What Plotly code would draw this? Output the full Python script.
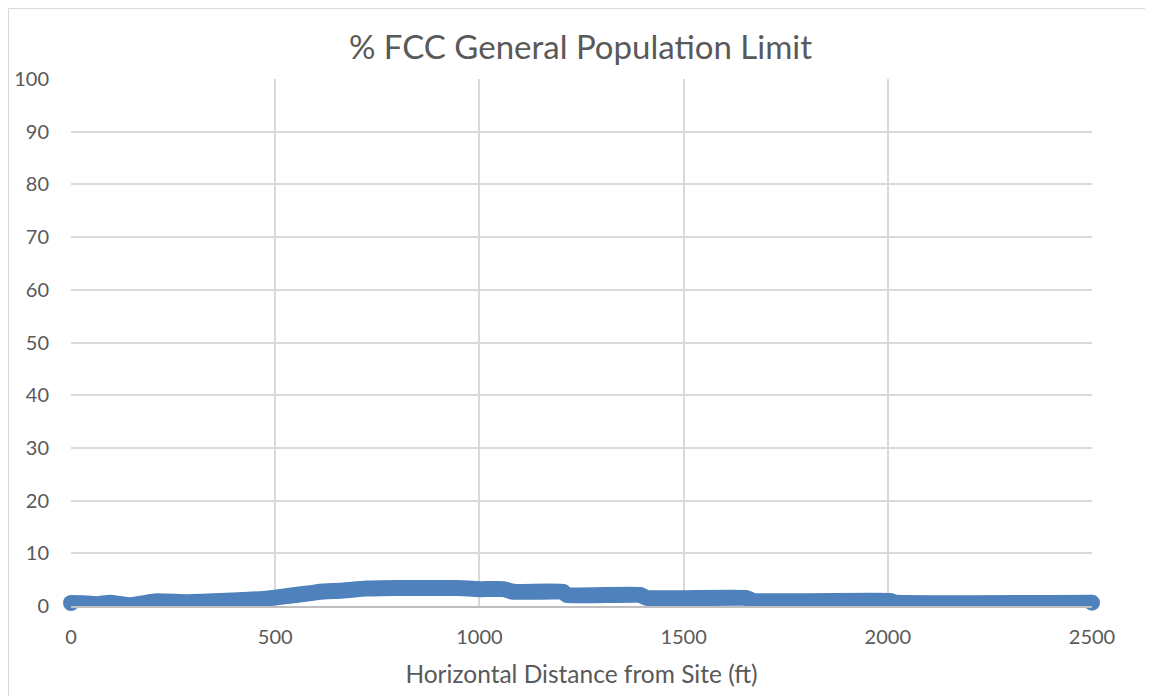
import plotly.graph_objects as go

# Data
distance_ft = [0, 30, 64, 96, 145, 210, 284, 382, 463, 500, 545, 593, 610, 659, 724, 800,
               944, 1002, 1059, 1083, 1205, 1214, 1393, 1410, 1654, 1670, 2005, 2021, 2500]
pct_limit = [0.57, 0.5, 0.35, 0.63, 0.16, 0.89, 0.73, 0.98, 1.3, 1.6, 2.05, 2.5, 2.7, 2.9, 3.3, 3.4,
             3.4, 3.2, 3.2, 2.7, 2.7, 2.1, 2.1, 1.52, 1.52, 0.98, 0.95, 0.63, 0.63]

title_text = "% FCC General Population Limit"
x_title = "Horizontal Distance from Site (ft)"
x_ticks = [0, 500, 1000, 1500, 2000, 2500]
y_ticks = [0, 10, 20, 30, 40, 50, 60, 70, 80, 90, 100]

LINE_COLOR = "#4F81BD"
TEXT_COLOR = "#595959"
GRID_COLOR = "#D9D9D9"
FONT = "Lato, 'Open Sans', sans-serif"

# page has an 8px body margin, so the figure is slightly smaller than the window
W, H = 1145, 688
ML, MR, MT, MB = 63, 61, 71, 90
pw = W - ML - MR
ph = H - MT - MB

fig = go.Figure()
fig.add_trace(go.Scatter(
    x=distance_ft, y=pct_limit, mode="lines",
    line=dict(color=LINE_COLOR, width=16, shape="spline", smoothing=0.35, simplify=False),
    cliponaxis=False, hoverinfo="x+y", showlegend=False,
))
# round end caps
fig.add_trace(go.Scatter(
    x=[distance_ft[0], distance_ft[-1]], y=[pct_limit[0], pct_limit[-1]], mode="markers",
    marker=dict(color=LINE_COLOR, size=16, line=dict(width=0)),
    cliponaxis=False, hoverinfo="skip", showlegend=False,
))

# chart-area border (top and left visible)
fig.add_shape(type="rect", xref="paper", yref="paper",
              x0=(0.5 - ML) / pw, x1=(W + 20 - ML) / pw,
              y0=-(MB + 20) / ph, y1=(ph + MT - 0.5) / ph,
              line=dict(color="#D9D9D9", width=1), fillcolor="rgba(0,0,0,0)", layer="below")

fig.update_layout(
    width=W, height=H,
    margin=dict(l=ML, r=MR, t=MT, b=MB, autoexpand=False),
    paper_bgcolor="white", plot_bgcolor="white",
    font=dict(family=FONT, color=TEXT_COLOR, size=20),
    title=dict(text=title_text, x=0.5, xanchor="center", y=1 - 39 / H, yanchor="middle",
               font=dict(size=33, color=TEXT_COLOR, family=FONT)),
    xaxis=dict(range=[0, 2500], tickvals=x_ticks, ticktext=[str(v) for v in x_ticks],
               showgrid=True, gridcolor=GRID_COLOR, gridwidth=1.5,
               zeroline=False, showline=True, linecolor="#BFBFBF", linewidth=2,
               ticks="", ticklabelstandoff=12,
               tickfont=dict(size=20, color=TEXT_COLOR),
               title=dict(text=x_title, font=dict(size=24.5, color=TEXT_COLOR), standoff=19)),
    yaxis=dict(range=[0, 100], tickvals=y_ticks, ticktext=[str(v) for v in y_ticks],
               showgrid=True, gridcolor=GRID_COLOR, gridwidth=1.5,
               zeroline=False, showline=False,
               ticks="", ticklabelstandoff=21,
               tickfont=dict(size=20, color=TEXT_COLOR)),
)

fig.write_html("out.html")
